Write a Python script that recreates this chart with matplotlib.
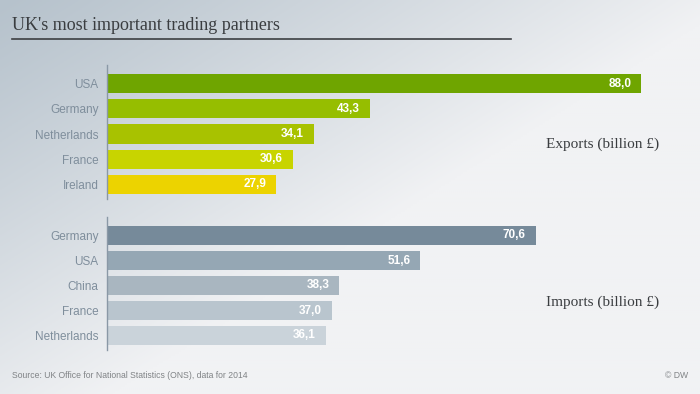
import numpy as np
import matplotlib.pyplot as plt

# data
exp_countries = ['USA', 'Germany', 'Netherlands', 'France', 'Ireland']
exp_values = [88.0, 43.3, 34.1, 30.6, 27.9]
exp_colors = ['#6fa500', '#96be00', '#a8c200', '#c8d400', '#ecd300']

imp_countries = ['Germany', 'USA', 'China', 'France', 'Netherlands']
imp_values = [70.6, 51.6, 38.3, 37.0, 36.1]
imp_colors = ['#768a9a', '#95a7b4', '#a9b6c0', '#b9c5ce', '#cad3da']

W, H = 700, 394
fig = plt.figure(figsize=(W / 100, H / 100), dpi=100)

# background gradient (dark top-left, light bottom-right)
bg = fig.add_axes([0, 0, 1, 1])
xx, yy = np.meshgrid(np.linspace(0, 1, 350), np.linspace(0, 1, 200))
t = np.clip(xx * 0.95 + yy * 0.85, 0, 1) ** 1.1
c0 = np.array([0xb6, 0xc2, 0xcc]) / 255
c1 = np.array([0xf1, 0xf2, 0xf4]) / 255
img = c0[None, None, :] * (1 - t[..., None]) + c1[None, None, :] * t[..., None]
bg.imshow(img, aspect='auto', extent=[0, 1, 0, 1], origin='upper')
bg.set_xlim(0, 1)
bg.set_ylim(0, 1)
bg.axis('off')

px_per_unit = 6.07


def px_ax(x0, y0, x1, y1):
    return fig.add_axes([x0 / W, 1 - y1 / H, (x1 - x0) / W, (y1 - y0) / H])


def draw_group(top, bottom, countries, values, colors, label, label_y):
    ax = px_ax(107, top, 700, bottom)
    ax.patch.set_alpha(0)
    pos = np.arange(len(countries))
    ax.barh(pos, values, height=0.76, color=colors, left=0)
    ax.set_xlim(0, 593 / px_per_unit)
    ax.set_ylim(len(countries) - 1 + 14.5 / 25, -18.5 / 25)
    ax.set_yticks(pos)
    ax.set_yticklabels(countries, fontsize=8.5, color='#7f8e9c', family='Liberation Sans')
    ax.tick_params(axis='y', length=0, pad=6)
    ax.set_xticks([])
    for s in ['top', 'right', 'bottom']:
        ax.spines[s].set_visible(False)
    ax.spines['left'].set_color('#8a98a6')
    ax.spines['left'].set_linewidth(1)
    for p, v in zip(pos, values):
        ax.text(v - 10 / px_per_unit, p, f'{v:.1f}'.replace('.', ','), ha='right', va='center',
                color='white', fontsize=8.5, fontweight='bold', family='Liberation Sans')
    fig.text(546 / W, 1 - label_y / H, label, ha='left', va='center',
             fontsize=11, color='#3a3d40', family='Liberation Serif')
    return ax


draw_group(65, 199, exp_countries, exp_values, exp_colors, 'Exports (billion £)', 144)
draw_group(217, 350, imp_countries, imp_values, imp_colors, 'Imports (billion £)', 302)

fig.text(12 / W, 1 - 30 / H, "UK's most important trading partners", ha='left', va='baseline',
         fontsize=13, color='#3a3d40', family='Liberation Serif')
bg.plot([12 / W, 511 / W], [1 - 39 / H, 1 - 39 / H], color='#3c3f42', lw=1.2)

fig.text(12 / W, 1 - 376 / H, 'Source: UK Office for National Statistics (ONS), data for 2014',
         ha='left', va='center', fontsize=6.2, color='#808386', family='Liberation Sans')
fig.text(688 / W, 1 - 376 / H, '© DW', ha='right', va='center', fontsize=6.2, color='#808386',
         family='Liberation Sans')

fig.savefig('out.png', dpi=100)
